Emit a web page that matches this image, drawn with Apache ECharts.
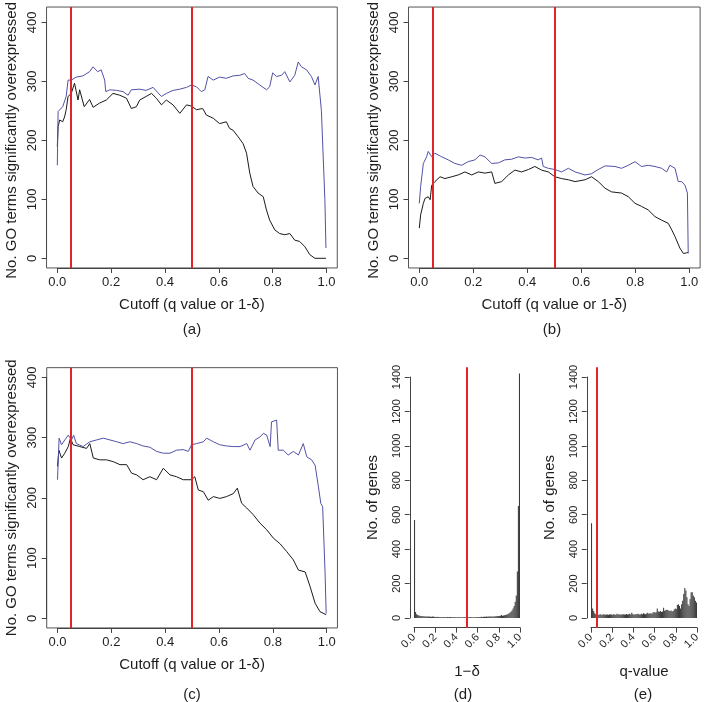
<!DOCTYPE html>
<html>
<head>
<meta charset="utf-8">
<script src="https://cdn.jsdelivr.net/npm/echarts@6/dist/echarts.min.js"></script>
<style>
html,body{margin:0;padding:0;background:#fff;}
#chart{width:709px;height:702px;}
</style>
</head>
<body>
<div id="chart"></div>
<script>
// ---------------- DATA ----------------
const xTicksLine = [0, 0.2, 0.4, 0.6, 0.8, 1.0];
const yTicksLine = [0, 100, 200, 300, 400];
const yTicksHist = [0, 200, 400, 600, 800, 1000, 1200, 1400];
const cutoffsLine = [0.05, 0.5];
const cutoffD = [0.5];
const cutoffE = [0.05];

const aBlue = [[0,154],[0.003,243],[0.02,251],[0.033,268],[0.04,295],[0.052,295],[0.07,300],[0.095,302],[0.12,309],[0.133,317],[0.15,309],[0.163,312],[0.176,295],[0.18,276],[0.195,279],[0.22,278],[0.244,276],[0.263,270],[0.275,279],[0.306,280],[0.33,278],[0.356,283],[0.374,274],[0.387,268],[0.405,273],[0.43,278],[0.455,280],[0.48,283],[0.498,287],[0.517,284],[0.535,276],[0.548,279],[0.56,301],[0.579,295],[0.603,300],[0.628,298],[0.653,302],[0.678,303],[0.696,306],[0.709,298],[0.727,295],[0.752,287],[0.777,279],[0.789,284],[0.80,307],[0.814,301],[0.833,303],[0.845,309],[0.864,292],[0.882,303],[0.895,325],[0.907,317],[0.926,312],[0.944,301],[0.957,287],[0.969,301],[0.981,245],[0.994,97],[0.998,17]];
const aBlack = [[0,185],[0.003,218],[0.009,229],[0.02,226],[0.027,234],[0.033,246],[0.04,268],[0.052,273],[0.064,290],[0.077,262],[0.083,279],[0.1,251],[0.12,263],[0.133,250],[0.157,257],[0.182,262],[0.207,273],[0.232,270],[0.257,265],[0.275,248],[0.294,251],[0.306,262],[0.33,268],[0.35,273],[0.368,265],[0.387,254],[0.405,262],[0.43,254],[0.455,240],[0.48,254],[0.498,252],[0.517,246],[0.54,248],[0.554,237],[0.579,232],[0.603,223],[0.628,226],[0.64,215],[0.653,212],[0.672,201],[0.69,190],[0.703,174],[0.715,141],[0.727,119],[0.746,108],[0.765,102],[0.777,80],[0.789,63],[0.808,47],[0.826,41],[0.845,39],[0.864,41],[0.882,30],[0.9,28],[0.92,19],[0.938,6],[0.957,0],[0.998,0]];

const bBlue = [[0,91],[0.005,119],[0.015,157],[0.027,168],[0.033,177],[0.046,168],[0.058,174],[0.083,168],[0.107,163],[0.132,157],[0.157,154],[0.181,160],[0.206,163],[0.225,171],[0.243,168],[0.268,157],[0.293,158],[0.317,163],[0.342,164],[0.367,168],[0.391,166],[0.416,167],[0.44,163],[0.453,166],[0.459,152],[0.478,149],[0.502,147],[0.527,143],[0.552,149],[0.577,143],[0.614,138],[0.638,140],[0.663,147],[0.688,153],[0.725,152],[0.749,149],[0.774,154],[0.799,160],[0.823,152],[0.848,154],[0.873,152],[0.898,149],[0.916,143],[0.928,154],[0.947,149],[0.959,127],[0.972,127],[0.984,121],[0.993,108],[0.996,8]];
const bBlack = [[0,50],[0.005,72],[0.015,91],[0.021,99],[0.027,97],[0.033,102],[0.04,97],[0.046,121],[0.058,127],[0.077,135],[0.095,132],[0.12,135],[0.144,138],[0.169,143],[0.194,138],[0.219,143],[0.243,141],[0.268,143],[0.28,124],[0.305,127],[0.33,138],[0.354,146],[0.379,143],[0.404,147],[0.428,152],[0.453,146],[0.478,143],[0.502,135],[0.527,132],[0.552,130],[0.577,127],[0.614,130],[0.638,135],[0.663,127],[0.688,116],[0.712,110],[0.749,108],[0.774,102],[0.799,91],[0.823,86],[0.848,80],[0.873,69],[0.898,63],[0.922,58],[0.935,47],[0.947,36],[0.965,17],[0.978,8],[0.99,9],[0.996,10]];

const cBlue = [[0,230],[0.006,299],[0.015,288],[0.027,296],[0.04,304],[0.052,296],[0.06,304],[0.07,290],[0.095,285],[0.12,293],[0.145,296],[0.17,299],[0.195,296],[0.22,293],[0.244,290],[0.269,293],[0.294,290],[0.318,286],[0.343,284],[0.368,277],[0.393,274],[0.418,274],[0.442,279],[0.467,280],[0.486,277],[0.498,288],[0.517,290],[0.542,293],[0.554,299],[0.579,293],[0.603,288],[0.628,286],[0.653,285],[0.678,285],[0.703,290],[0.715,279],[0.734,296],[0.752,301],[0.765,307],[0.777,304],[0.79,285],[0.795,326],[0.814,329],[0.82,279],[0.839,279],[0.857,271],[0.876,277],[0.895,271],[0.913,290],[0.926,268],[0.944,263],[0.957,254],[0.969,219],[0.978,191],[0.985,185],[0.994,75],[0.998,8]];
const cBlack = [[0,252],[0.005,279],[0.015,266],[0.027,274],[0.04,285],[0.048,299],[0.058,288],[0.083,285],[0.108,282],[0.12,290],[0.133,266],[0.157,263],[0.182,263],[0.207,260],[0.232,255],[0.257,255],[0.275,241],[0.294,238],[0.318,230],[0.343,235],[0.368,230],[0.393,249],[0.418,238],[0.442,235],[0.467,230],[0.498,230],[0.51,235],[0.523,213],[0.542,210],[0.56,196],[0.579,202],[0.603,199],[0.628,202],[0.653,207],[0.668,216],[0.684,191],[0.703,183],[0.727,172],[0.752,158],[0.777,147],[0.802,133],[0.826,124],[0.851,111],[0.876,97],[0.895,80],[0.92,77],[0.938,53],[0.957,25],[0.975,11],[0.998,6]];

const binWidth = 0.01;
const dHist = [570,35,22,18,15,13,12,11,10,10, 9,9,8,8,8,7,7,8,7,7, 6,6,7,6,6,6,5,6,6,5, 5,6,5,5,6,5,5,5,6,5, 5,5,6,5,5,5,4,5,5,5, 5,5,5,6,5,5,5,6,5,6, 6,6,6,7,6,7,7,7,8,7, 8,8,9,8,9,9,10,10,11,11, 12,13,18,13,15,16,18,20,22,26, 30,36,44,55,70,95,130,270,650,1420];
const eHist = [550,55,40,28,22,18,20,18,22,20, 18,22,20,19,21,20,18,22,20,21, 19,22,20,18,24,20,22,19,21,20, 22,20,21,23,20,22,24,20,30,22, 21,20,23,22,25,21,20,24,22,28, 24,22,26,30,24,26,28,25,32,35, 30,33,55,38,36,40,35,38,60,42, 45,48,46,42,40,44,38,40,50,55, 52,75,80,70,55,80,100,140,175,160, 120,80,70,110,150,150,130,120,100,90];

const yNameLine = 'No. GO terms significantly overexpressed';
const xNameLine = 'Cutoff (q value or 1-δ)';

// ---------------- LAYOUT / STYLE ----------------
const FONT = 'Liberation Sans, Arial, Helvetica, sans-serif';
const TXT = '#1e1e1e';
const AX = '#444';
const BLUE = '#5252a6';
const BLACK = '#1a1a1a';
const RED = '#e3232a';
const BARC = '#3b3b3b';

const grids = [], xAxes = [], yAxes = [], series = [], graphics = [];

function addPanel(p) {
  const w = p.x1 - p.x0, h = p.yBot - p.yTop;
  const gi = grids.length;
  grids.push({left: p.x0 - 0.04 * w, top: p.yTop - 0.04 * h, width: 1.08 * w, height: 1.08 * h,
    show: p.box, borderColor: '#555', borderWidth: 1, backgroundColor: 'transparent'});
  grids.push({left: p.x0, top: p.yTop, width: w, height: h, show: false});
  const xi = xAxes.length, yi = yAxes.length;
  const xt = p.xTicks, yt = p.yTicks;
  const xMin = xt[0], xMax = xt[xt.length - 1], yMin = yt[0], yMax = yt[yt.length - 1];
  const xr = xMax - xMin, yr = yMax - yMin;
  xAxes.push({gridIndex: gi, type: 'value', min: xMin - 0.04 * xr, max: xMax + 0.04 * xr, show: false});
  yAxes.push({gridIndex: gi, type: 'value', min: yMin - 0.04 * yr, max: yMax + 0.04 * yr, show: false});
  xAxes.push({gridIndex: gi + 1, type: 'value', min: xMin, max: xMax, interval: xt[1] - xt[0],
    position: 'bottom', offset: 0.04 * h,
    axisLine: {show: true, onZero: false, lineStyle: {color: AX, width: 1}},
    axisTick: {show: true, length: 5, lineStyle: {color: AX, width: 1}},
    splitLine: {show: false},
    axisLabel: {fontSize: p.tickFont, color: TXT, fontFamily: FONT, margin: p.xMargin, rotate: p.xRot,
      formatter: v => v.toFixed(1)},
    name: p.xName, nameLocation: 'middle', nameGap: p.xNameGap,
    nameTextStyle: {fontSize: 15, color: TXT, fontFamily: FONT}});
  yAxes.push({gridIndex: gi + 1, type: 'value', min: yMin, max: yMax, interval: yt[1] - yt[0],
    position: 'left', offset: 0.04 * w,
    axisLine: {show: true, onZero: false, lineStyle: {color: AX, width: 1}},
    axisTick: {show: true, length: 5, lineStyle: {color: AX, width: 1}},
    splitLine: {show: false},
    axisLabel: {fontSize: p.tickFont, color: TXT, fontFamily: FONT, margin: p.yMargin, rotate: 90,
      formatter: v => String(v)},
    name: p.yName, nameLocation: 'middle', nameGap: p.yNameGap, nameRotate: 90,
    nameTextStyle: {fontSize: 15, color: TXT, fontFamily: FONT}});
  (p.lines || []).forEach(l => {
    series.push({type: 'line', xAxisIndex: xi, yAxisIndex: yi, data: l.data, showSymbol: false, symbol: 'none',
      lineStyle: {color: l.color, width: 1}, silent: true, animation: false, z: 2});
  });
  if (p.hist) {
    const counts = p.hist;
    const hd = counts.map((c, i) => [i * binWidth, c]);
    series.push({type: 'custom', xAxisIndex: xi, yAxisIndex: yi, data: hd, silent: true, animation: false,
      encode: {x: 0, y: 1}, clip: false, z: 3,
      renderItem: (params, api) => {
        const x0 = api.value(0), c = api.value(1);
        const a = api.coord([x0, c]);
        const b = api.coord([x0 + binWidth, 0]);
        return {type: 'rect', shape: {x: a[0], y: a[1], width: Math.max(b[0] - a[0], 1), height: b[1] - a[1]},
          style: {fill: BARC}};
      }});
  }
  series.push({type: 'line', xAxisIndex: xi, yAxisIndex: yi, data: [], silent: true, animation: false,
    markLine: {silent: true, symbol: ['none', 'none'], label: {show: false}, animation: false, z: 10,
      lineStyle: {color: RED, width: 2, type: 'solid'},
      emphasis: {disabled: true},
      data: p.cuts.map(c => ({xAxis: c}))}});
  graphics.push({type: 'text', x: p.cap[0], y: p.cap[1],
    style: {text: p.capText, fontSize: 15, fontFamily: FONT, fill: TXT, align: 'center', verticalAlign: 'middle'}});
}

const linePanelBase = {xTicks: xTicksLine, yTicks: yTicksLine, box: true, tickFont: 13, xMargin: 8, yMargin: 8,
  xName: xNameLine, yName: yNameLine, xNameGap: 29, yNameGap: 27, xRot: 0, cuts: cutoffsLine};

addPanel(Object.assign({}, linePanelBase, {x0: 57.3, x1: 326.5, yTop: 16.7, yBot: 258.3,
  lines: [{data: aBlack, color: BLACK}, {data: aBlue, color: BLUE}], cap: [192, 330], capText: '(a)'}));
addPanel(Object.assign({}, linePanelBase, {x0: 419.3, x1: 689.3, yTop: 16.7, yBot: 258.3,
  lines: [{data: bBlack, color: BLACK}, {data: bBlue, color: BLUE}], cap: [552, 330], capText: '(b)'}));
addPanel(Object.assign({}, linePanelBase, {x0: 57.5, x1: 326.7, yTop: 377.3, yBot: 618.3,
  lines: [{data: cBlack, color: BLACK}, {data: cBlue, color: BLUE}], cap: [192, 695], capText: '(c)'}));

const histBase = {xTicks: xTicksLine, yTicks: yTicksHist, box: false, tickFont: 11, xMargin: 8, yMargin: 7,
  yName: 'No. of genes', xNameGap: 37, yNameGap: 29, xRot: 45};
addPanel(Object.assign({}, histBase, {x0: 414, x1: 520, yTop: 377, yBot: 618, hist: dHist, cuts: cutoffD,
  xName: '1\u2212\u03b4', cap: [463, 695], capText: '(d)'}));
addPanel(Object.assign({}, histBase, {x0: 591, x1: 697, yTop: 377, yBot: 618, hist: eHist, cuts: cutoffE,
  xName: 'q-value', cap: [643, 695], capText: '(e)'}));

const chart = echarts.init(document.getElementById('chart'), null, {renderer: 'canvas'});
chart.setOption({
  animation: false,
  backgroundColor: '#ffffff',
  grid: grids,
  xAxis: xAxes,
  yAxis: yAxes,
  series: series,
  graphic: graphics
});
</script>
</body>
</html>
